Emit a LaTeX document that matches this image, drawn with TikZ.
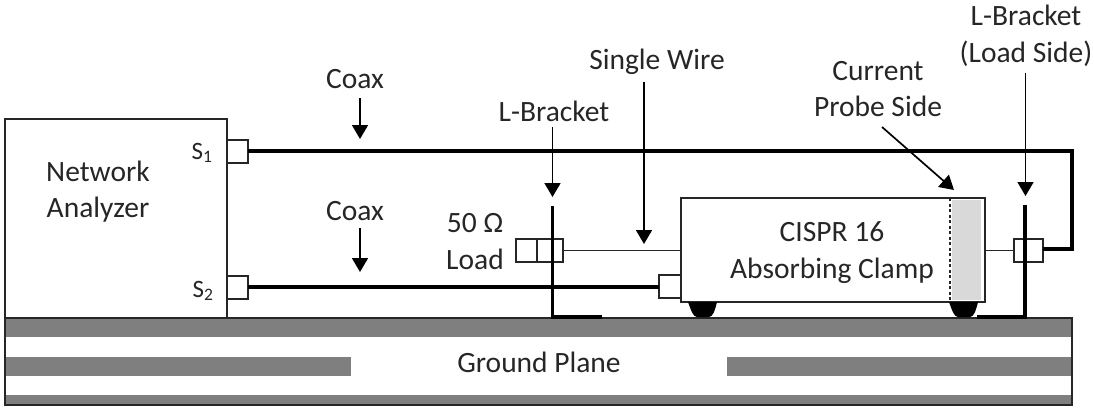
\documentclass[tikz,border=0pt]{standalone}
\usepackage{fontspec}
\setmainfont{Carlito}
\usetikzlibrary{arrows.meta}
\definecolor{gplane}{HTML}{7F7F7F}
\definecolor{probe}{HTML}{D9D9D9}
\definecolor{ink}{HTML}{262626}
\tikzset{
  thinbox/.style={draw=ink,line width=1.8pt,fill=white,inner sep=0pt,outer sep=0pt},
  port/.style={thinbox,minimum width=21.5pt,minimum height=22.5pt},
  coax/.style={black,line width=3.1pt},
  wire/.style={ink,line width=1.9pt},
  bracket/.style={black,line width=3.1pt},
  callout/.style={black,line width=1.7pt,-{Triangle[length=14pt,width=16pt]}},
  lbl/.style={font=\fontsize{29.5}{36.5}\selectfont,text=ink,inner sep=0pt,align=center},
  stripe/.style={fill=gplane,draw=none},
  foot/.style={fill=black,draw=none}
}
\begin{document}
\begin{tikzpicture}[x=1pt,y=-1pt]
\useasboundingbox (0,0) rectangle (1094,407);
% ground plane
\fill[stripe] (5,318) rectangle (1072,337);
\fill[stripe] (5,357) rectangle (351,376);
\fill[stripe] (727,357) rectangle (1072,376);
\fill[stripe] (5,395) rectangle (1072,405);
\node[draw=ink,line width=1.8pt,minimum width=1067pt,minimum height=87.5pt,inner sep=0pt,outer sep=0pt] (ground) at (538.5,361.5) {};
\node[lbl] (gptext) at (539,362) {Ground Plane};
% analyzer
\node[thinbox,minimum width=222pt,minimum height=199pt] (na) at (116,218.5) {};
\node[lbl] (natext) at (98,191.5) {Network\\Analyzer};
\node[port] (s1) at (237.5,151.5) {};
\node[port] (s2) at (237.5,287.5) {};
\node[lbl,font=\fontsize{25}{28}\selectfont] (s1t) at (202,153) {S\textsubscript{1}};
\node[lbl,font=\fontsize{25}{28}\selectfont] (s2t) at (203,291) {S\textsubscript{2}};
% clamp
\node[thinbox,minimum width=304pt,minimum height=104pt] (clamp) at (833,250) {};
\fill[probe] (952,200) rectangle (981,300);
\draw[ink,line width=2pt,dash pattern=on 3pt off 2.5pt] (950,198) -- (950,302);
\node[lbl] (clamptext) at (832,252.5) {CISPR 16\\Absorbing Clamp};
% feet
\fill[foot] (688,302) .. controls (691,310) and (693,317) .. (697,317) -- (709,317) .. controls (713,317) and (715,310) .. (717,302) -- cycle;
\fill[foot] (949,302) .. controls (952,310) and (954,317) .. (958,317) -- (970,317) .. controls (974,317) and (976,310) .. (978,302) -- cycle;
% ports on clamp and load
\node[port] (cp) at (670,286.5) {};
\node[thinbox,minimum width=21pt,minimum height=23pt] (load1) at (526.5,250.5) {};
\node[thinbox,minimum width=26pt,minimum height=23pt] (load2) at (550,250.5) {};
\node[thinbox,minimum width=29pt,minimum height=23pt] (rp) at (1028.5,250.5) {};
% coax
\coordinate (c1) at (1072,151);
\coordinate (c2) at (1072,249);
\draw[coax,line join=miter] (s1.east |- 0,151) -- (c1) -- (c2) -- (rp.east |- c2);
\draw[coax] (s2.east |- 0,287) -- (cp.west |- 0,287);
% single wires
\draw[wire] (load2.east) -- (clamp.west |- load2.east);
\draw[wire] (clamp.east |- rp.west) -- (rp.west);
% brackets
\coordinate (b1t) at (552.5,206);
\coordinate (b1b) at (552.5,317);
\coordinate (b1f) at (602,317);
\coordinate (b2t) at (1025,205);
\coordinate (b2b) at (1025,317);
\coordinate (b2f) at (977,317);
\draw[bracket,line join=miter] (b1t) -- (b1b) -- (b1f);
\draw[bracket,line join=miter] (b2t) -- (b2b) -- (b2f);
% callouts
\node[lbl] (coax1) at (355,79) {Coax};
\node[lbl] (coax2) at (355,211) {Coax};
\node[lbl] (lb1) at (554,111) {L-Bracket};
\node[lbl] (sw) at (657,62) {Single Wire};
\node[lbl] (cur) at (878,89) {Current\\Probe Side};
\node[lbl] (lb2) at (1026,36) {L-Bracket\\(Load Side)};
\node[lbl] (load) at (475,241.5) {50 Ω\\Load};
\coordinate (a1) at (360,98); \coordinate (a1e) at (360,139);
\coordinate (a2) at (360,228); \coordinate (a2e) at (360,272);
\coordinate (a3) at (552.5,127); \coordinate (a3e) at (552.5,197);
\coordinate (a4) at (644,82); \coordinate (a4e) at (644,244);
\coordinate (a5) at (882,127); \coordinate (a5e) at (954,190);
\coordinate (a6) at (1025.5,73); \coordinate (a6e) at (1025.5,196);
\foreach \p/\q in {a1/a1e,a2/a2e,a3/a3e,a4/a4e,a5/a5e,a6/a6e} \draw[callout] (\p) -- (\q);
\end{tikzpicture}
\end{document}
